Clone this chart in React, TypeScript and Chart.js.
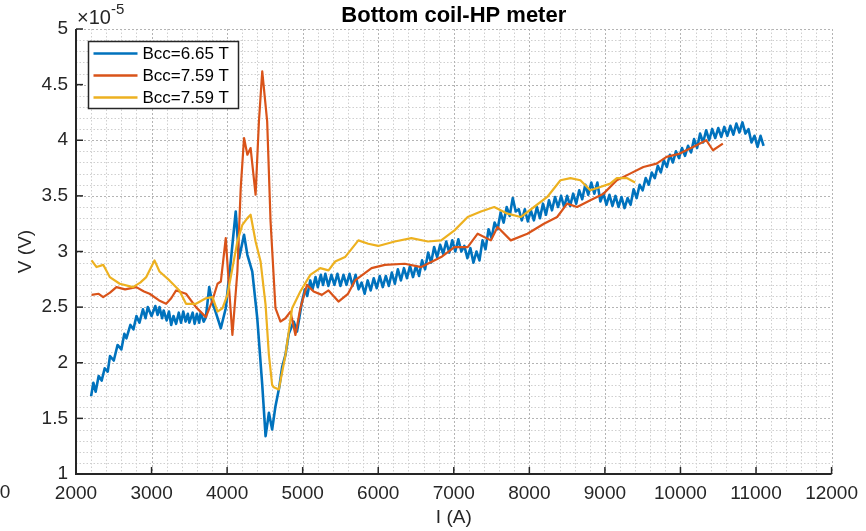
import React, { useEffect, useRef } from "react";
import { Chart, registerables } from "chart.js";

Chart.register(...registerables);

// ---------- Data (V values in units of 1e-5 V) ----------
const TITLE = "Bottom coil-HP meter";
const X_LABEL = "I (A)";
const Y_LABEL = "V (V)";
const Y_EXPONENT = "-5";
const X_MIN = 2000;
const X_MAX = 12000;
const X_STEP = 1000;
const X_MINOR = 200;
const Y_MIN = 1;
const Y_MAX = 5;
const Y_STEP = 0.5;
const Y_MINOR = 0.1;

const seriesLabels = ["Bcc=6.65 T", "Bcc=7.59 T", "Bcc=7.59 T"];
const seriesColors = ["#0072BD", "#D95319", "#EDB120"];

const blueI = [
  2200, 2230, 2260, 2300, 2340, 2380, 2420, 2450, 2500, 2550, 2600, 2640, 2667, 2720, 2760, 2800,
  2840, 2886, 2920, 2950, 3000, 3050, 3080, 3105, 3140, 3160, 3200, 3230, 3260, 3290, 3325, 3360,
  3390, 3420, 3450, 3480, 3500, 3544, 3570, 3600, 3630, 3650, 3690, 3719, 3763, 3800, 3851, 3917,
  3982, 4048, 4114, 4158, 4224, 4268, 4333, 4399, 4465, 4509, 4553, 4596, 4640, 4690, 4728, 4772,
  4816, 4882, 4925, 4991, 5030, 5060, 5100, 5130, 5170, 5200, 5240, 5270, 5300, 5340, 5380, 5420,
  5460, 5500, 5540, 5580, 5620, 5660, 5700, 5740, 5780, 5820, 5860, 5900, 5940, 5980, 6020, 6060,
  6100, 6140, 6180, 6220, 6260, 6300, 6340, 6380, 6420, 6460, 6500, 6540, 6580, 6620, 6660, 6700,
  6740, 6780, 6820, 6860, 6900, 6940, 6980, 7020, 7060, 7100, 7140, 7180, 7220, 7260, 7300, 7340,
  7380, 7420, 7460, 7500, 7540, 7580, 7620, 7660, 7700, 7740, 7780, 7820, 7860, 7900, 7940, 7980,
  8020, 8060, 8100, 8140, 8180, 8220, 8260, 8300, 8340, 8380, 8420, 8460, 8500, 8540, 8580, 8620,
  8660, 8700, 8740, 8780, 8820, 8860, 8900, 8940, 8980, 9020, 9060, 9100, 9140, 9180, 9220, 9260,
  9300, 9340, 9380, 9420, 9460, 9500, 9540, 9580, 9620, 9660, 9700, 9740, 9780, 9820, 9860, 9900,
  9940, 9980, 10020, 10060, 10100, 10140, 10180, 10220, 10260, 10300, 10340, 10380, 10420, 10460,
  10500, 10540, 10580, 10620, 10660, 10700, 10740, 10780, 10820, 10860, 10900, 10940, 10980, 11020,
  11060, 11100,
];
const blueV = [
  1.70, 1.82, 1.74, 1.88, 1.84, 1.95, 1.92, 2.06, 2.02, 2.16, 2.12, 2.26, 2.22, 2.34, 2.30, 2.42,
  2.36, 2.48, 2.40, 2.50, 2.42, 2.51, 2.43, 2.50, 2.40, 2.47, 2.38, 2.46, 2.34, 2.42, 2.35, 2.45,
  2.36, 2.46, 2.37, 2.44, 2.36, 2.45, 2.35, 2.44, 2.36, 2.45, 2.37, 2.41, 2.68, 2.55, 2.45, 2.31,
  2.49, 2.91, 3.36, 2.94, 3.15, 2.97, 2.82, 2.40, 1.80, 1.34, 1.55, 1.40, 1.61, 1.78, 1.96, 2.07,
  2.26, 2.37, 2.28, 2.55, 2.66, 2.60, 2.74, 2.66, 2.77, 2.68, 2.79, 2.70, 2.80, 2.69, 2.79, 2.70,
  2.80, 2.69, 2.79, 2.70, 2.80, 2.69, 2.79, 2.66, 2.72, 2.62, 2.74, 2.65, 2.76, 2.67, 2.78, 2.68,
  2.78, 2.69, 2.81, 2.71, 2.84, 2.74, 2.85, 2.76, 2.87, 2.77, 2.87, 2.78, 2.92, 2.84, 2.99, 2.90,
  3.04, 2.95, 3.06, 2.98, 3.09, 2.99, 3.10, 3.00, 3.11, 3.00, 3.05, 2.94, 3.03, 2.90, 3.00, 2.92,
  3.10, 3.02, 3.20, 3.12, 3.26, 3.20, 3.35, 3.26, 3.40, 3.32, 3.48, 3.36, 3.38, 3.28, 3.38, 3.27,
  3.37, 3.28, 3.40, 3.30, 3.43, 3.33, 3.46, 3.37, 3.49, 3.40, 3.50, 3.40, 3.50, 3.41, 3.52, 3.43,
  3.55, 3.47, 3.60, 3.51, 3.62, 3.52, 3.62, 3.45, 3.52, 3.42, 3.51, 3.41, 3.50, 3.40, 3.49, 3.39,
  3.48, 3.42, 3.56, 3.48, 3.60, 3.55, 3.66, 3.60, 3.71, 3.66, 3.77, 3.71, 3.82, 3.76, 3.87, 3.80,
  3.90, 3.84, 3.93, 3.86, 3.95, 3.89, 4.01, 3.93, 4.06, 3.98, 4.09, 4.00, 4.10, 4.02,
  4.11, 4.03, 4.12, 4.04, 4.13, 4.05, 4.15, 4.07, 4.16, 4.06, 4.10, 3.98, 4.04, 3.94,
  4.04, 3.95,
];

const redI = [
  2206, 2300, 2360, 2450, 2535, 2650, 2798, 2900, 2974, 3100, 3193, 3260, 3325, 3456, 3588, 3719,
  3800, 3873, 3917, 3982, 4026, 4070, 4136, 4180, 4224, 4268, 4311, 4377, 4421, 4465, 4530, 4575,
  4640, 4706, 4772, 4838, 4904, 4969, 5057, 5145, 5254, 5342, 5474, 5600, 5693, 5912, 6088, 6351,
  6570, 6833, 7009, 7184, 7316, 7491, 7579, 7754, 7974, 8193, 8368, 8500, 8632, 8807, 8982, 9158,
  9333, 9509, 9684, 9816, 9991, 10167, 10342, 10430, 10561,
];
const redV = [
  2.61, 2.62, 2.59, 2.63, 2.68, 2.66, 2.68, 2.64, 2.62, 2.56, 2.53, 2.58, 2.65, 2.62, 2.50, 2.41,
  2.55, 2.71, 2.73, 3.12, 2.67, 2.25, 2.82, 3.57, 4.02, 3.87, 3.93, 3.51, 4.17, 4.62, 4.17, 3.27,
  2.49, 2.37, 2.40, 2.46, 2.25, 2.49, 2.70, 2.64, 2.61, 2.65, 2.55, 2.62, 2.74, 2.85, 2.88, 2.89,
  2.86, 2.95, 3.04, 3.04, 3.16, 3.10, 3.22, 3.10, 3.16, 3.25, 3.31, 3.43, 3.40, 3.46, 3.52, 3.64,
  3.70, 3.76, 3.79, 3.85, 3.88, 3.94, 4.00, 3.91, 3.97,
];

const yellowI = [
  2206, 2272, 2360, 2447, 2579, 2754, 2850, 2930, 3039, 3105, 3237, 3368, 3456, 3588, 3719, 3807,
  3873, 3939, 4004, 4070, 4136, 4202, 4268, 4311, 4377, 4443, 4509, 4553, 4596, 4618, 4684, 4772,
  4860, 4969, 5101, 5232, 5342, 5430, 5561, 5737, 5868, 6000, 6219, 6438, 6658, 6833, 7009, 7184,
  7359, 7535, 7711, 7886, 8062, 8237, 8412, 8544, 8675, 8807, 8939, 9070, 9158, 9289, 9400,
];
const yellowV = [
  2.92, 2.86, 2.88, 2.77, 2.71, 2.68, 2.72, 2.77, 2.92, 2.82, 2.74, 2.65, 2.53, 2.53, 2.58, 2.59,
  2.46, 2.49, 2.61, 2.85, 3.09, 3.24, 3.30, 3.33, 3.09, 2.91, 2.52, 2.07, 1.80, 1.78, 1.76, 2.07,
  2.49, 2.64, 2.79, 2.85, 2.83, 2.91, 2.95, 3.10, 3.07, 3.05, 3.09, 3.12, 3.09, 3.10, 3.19, 3.31,
  3.36, 3.40, 3.34, 3.31, 3.40, 3.49, 3.64, 3.66, 3.64, 3.55, 3.58, 3.61, 3.66, 3.66, 3.62,
];

// ---------- Styling ----------
const FONT = "'Liberation Sans', Arial, Helvetica, sans-serif";
const TEXT = "#262626";

const toPts = (xs: number[], ys: number[]) => xs.map((x, i) => ({ x, y: ys[i] }));

const decor = {
  id: "decor",
  beforeDatasetsDraw(chart: any) {
    const { ctx, chartArea: a, scales } = chart;
    const x = scales.x;
    const y = scales.y;
    ctx.save();
    ctx.lineWidth = 1;
    // minor grid
    ctx.strokeStyle = "#cfcfcf";
    ctx.setLineDash([1.5, 2]);
    for (let i = 0; X_MIN + i * X_MINOR <= X_MAX + 1e-6; i++) {
      const v = X_MIN + i * X_MINOR;
      if (Math.abs(v % X_STEP) < 1e-6) continue;
      const px = Math.round(x.getPixelForValue(v)) + 0.5;
      ctx.beginPath();
      ctx.moveTo(px, a.top);
      ctx.lineTo(px, a.bottom);
      ctx.stroke();
    }
    for (let i = 0; Y_MIN + i * Y_MINOR <= Y_MAX + 1e-6; i++) {
      const v = Y_MIN + i * Y_MINOR;
      if (i % 5 === 0) continue;
      const py = Math.round(y.getPixelForValue(v)) + 0.5;
      ctx.beginPath();
      ctx.moveTo(a.left, py);
      ctx.lineTo(a.right, py);
      ctx.stroke();
    }
    // major grid
    ctx.strokeStyle = "#b4b4b4";
    ctx.setLineDash([2, 2]);
    for (let v = X_MIN; v <= X_MAX + 1e-6; v += X_STEP) {
      const px = Math.round(x.getPixelForValue(v)) + 0.5;
      ctx.beginPath();
      ctx.moveTo(px, a.top);
      ctx.lineTo(px, a.bottom);
      ctx.stroke();
    }
    for (let i = 0; Y_MIN + i * Y_STEP <= Y_MAX + 1e-6; i++) {
      const py = Math.round(y.getPixelForValue(Y_MIN + i * Y_STEP)) + 0.5;
      ctx.beginPath();
      ctx.moveTo(a.left, py);
      ctx.lineTo(a.right, py);
      ctx.stroke();
    }
    ctx.restore();
  },
  afterDraw(chart: any) {
    const { ctx, chartArea: a, scales } = chart;
    const x = scales.x;
    const y = scales.y;
    ctx.save();
    ctx.setLineDash([]);
    // axis lines
    ctx.strokeStyle = TEXT;
    ctx.lineWidth = 2;
    ctx.beginPath();
    ctx.moveTo(a.left, a.top);
    ctx.lineTo(a.left, a.bottom);
    ctx.lineTo(a.right, a.bottom);
    ctx.stroke();
    // inward ticks
    ctx.lineWidth = 1.5;
    for (let v = X_MIN; v <= X_MAX + 1e-6; v += X_STEP) {
      const px = x.getPixelForValue(v);
      ctx.beginPath();
      ctx.moveTo(px, a.bottom);
      ctx.lineTo(px, a.bottom - 7);
      ctx.stroke();
    }
    for (let i = 0; Y_MIN + i * Y_STEP <= Y_MAX + 1e-6; i++) {
      const py = y.getPixelForValue(Y_MIN + i * Y_STEP);
      ctx.beginPath();
      ctx.moveTo(a.left, py);
      ctx.lineTo(a.left + 7, py);
      ctx.stroke();
    }
    // title
    ctx.fillStyle = "#000";
    ctx.font = `bold 22px ${FONT}`;
    ctx.textAlign = "center";
    ctx.textBaseline = "middle";
    ctx.fillText(TITLE, (a.left + a.right) / 2, 16);
    // axis titles
    ctx.fillStyle = TEXT;
    ctx.font = `19px ${FONT}`;
    ctx.fillText(X_LABEL, (a.left + a.right) / 2, 518);
    ctx.save();
    ctx.translate(26, (a.top + a.bottom) / 2);
    ctx.rotate(-Math.PI / 2);
    ctx.fillText(Y_LABEL, 0, 0);
    ctx.restore();
    // exponent
    ctx.textAlign = "left";
    ctx.font = `20px ${FONT}`;
    const base = "×10";
    ctx.fillText(base, a.left + 1, 18);
    const w = ctx.measureText(base).width;
    ctx.font = `15px ${FONT}`;
    ctx.fillText(Y_EXPONENT, a.left + 1 + w, 10);
    // stray partial label at far left
    ctx.font = `19px ${FONT}`;
    ctx.textAlign = "center";
    ctx.fillText("0", 5, 493);
    // legend
    const lx = a.left + 12.5;
    const ly = a.top + 12.5;
    const lw = 150;
    const lh = 67;
    ctx.fillStyle = "#fff";
    ctx.fillRect(lx, ly, lw, lh);
    ctx.strokeStyle = TEXT;
    ctx.lineWidth = 1.5;
    ctx.strokeRect(lx, ly, lw, lh);
    ctx.font = `17px ${FONT}`;
    ctx.textAlign = "left";
    ctx.textBaseline = "middle";
    seriesLabels.forEach((lab, i) => {
      const ry = ly + 12 + i * 22;
      ctx.strokeStyle = seriesColors[i];
      ctx.lineWidth = 2.5;
      ctx.beginPath();
      ctx.moveTo(lx + 5, ry);
      ctx.lineTo(lx + 49, ry);
      ctx.stroke();
      ctx.fillStyle = "#000";
      ctx.fillText(lab, lx + 54, ry + 1);
    });
    ctx.restore();
  },
};

export default function App() {
  const ref = useRef<HTMLCanvasElement | null>(null);
  useEffect(() => {
    if (!ref.current) return;
    const chart = new Chart(ref.current, {
      type: "line",
      data: {
        datasets: [
          {
            label: seriesLabels[0],
            data: toPts(blueI, blueV),
            borderColor: seriesColors[0],
            borderWidth: 2.6,
            pointRadius: 0,
            order: 3,
          },
          {
            label: seriesLabels[1],
            data: toPts(redI, redV),
            borderColor: seriesColors[1],
            borderWidth: 2.2,
            pointRadius: 0,
            order: 2,
          },
          {
            label: seriesLabels[2],
            data: toPts(yellowI, yellowV),
            borderColor: seriesColors[2],
            borderWidth: 2.2,
            pointRadius: 0,
            order: 1,
          },
        ],
      },
      options: {
        animation: false,
        responsive: false,
        maintainAspectRatio: false,
        layout: { padding: { top: 29, right: 29, left: 0, bottom: 0 } },
        plugins: {
          legend: { display: false },
          title: { display: false },
          tooltip: { enabled: false },
        },
        elements: { line: { tension: 0, borderJoinStyle: "round" } },
        scales: {
          x: {
            type: "linear",
            min: X_MIN,
            max: X_MAX,
            ticks: {
              stepSize: X_STEP,
              autoSkip: false,
              maxRotation: 0,
              padding: 8,
              color: TEXT,
              font: { family: FONT, size: 19 },
              callback: (v: any) => String(v),
            },
            grid: { display: false, drawTicks: false },
            border: { display: false },
            afterFit: (s: any) => {
              s.height = 57;
            },
          },
          y: {
            type: "linear",
            min: Y_MIN,
            max: Y_MAX,
            ticks: {
              stepSize: Y_STEP,
              padding: 8,
              color: TEXT,
              font: { family: FONT, size: 19 },
              callback: (v: any) => String(Math.round(Number(v) * 10) / 10),
            },
            grid: { display: false, drawTicks: false },
            border: { display: false },
            afterFit: (s: any) => {
              s.width = 76;
            },
          },
        },
      },
      plugins: [decor],
    });
    return () => chart.destroy();
  }, []);
  return (
    <div style={{ position: "fixed", left: 0, top: 0, width: 866, height: 531, background: "#fff" }}>
      <canvas ref={ref} width={866} height={531} />
    </div>
  );
}
